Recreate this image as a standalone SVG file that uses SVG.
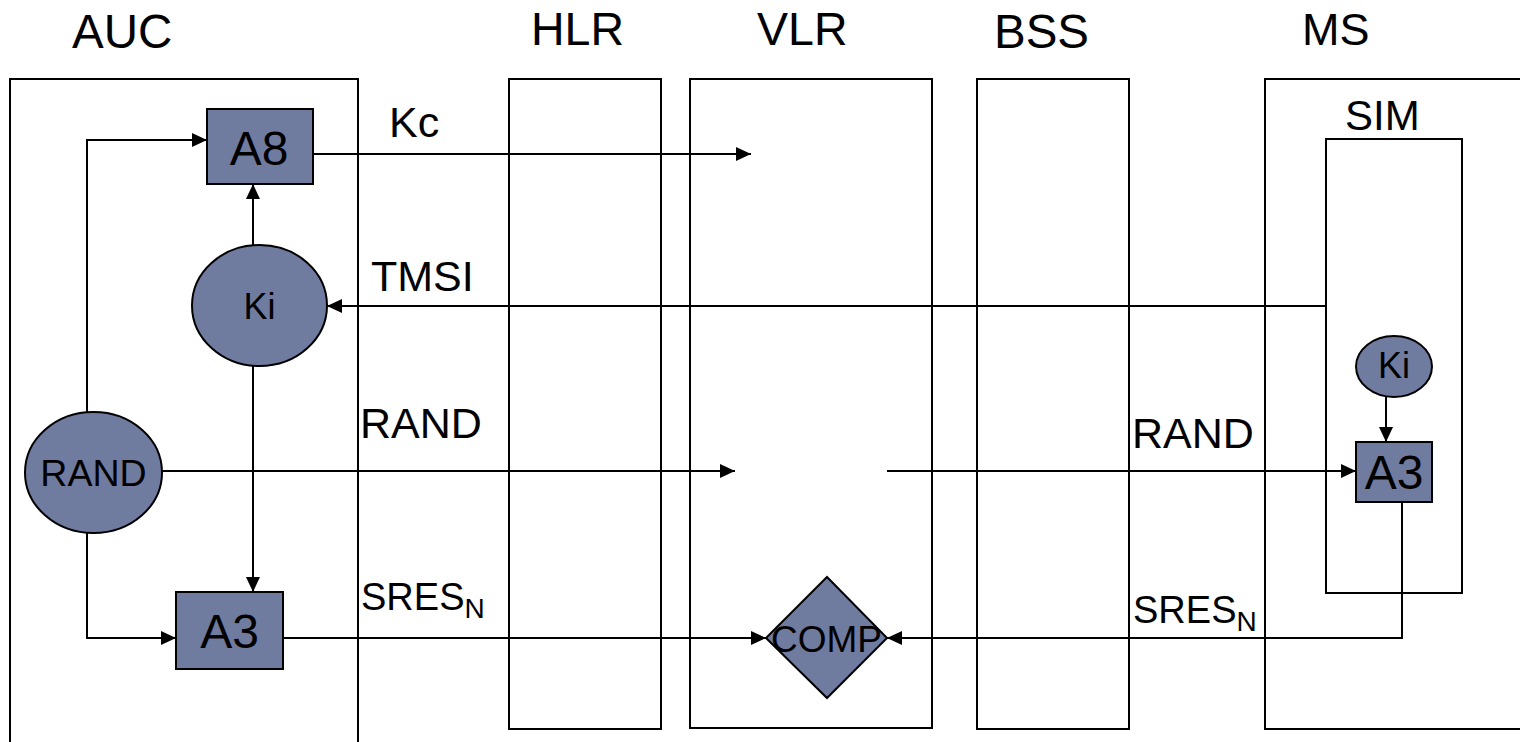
<svg xmlns="http://www.w3.org/2000/svg" width="1520" height="742" viewBox="0 0 1520 742">
  <style>
    .lane { fill: none; stroke: #000; stroke-width: 2; }
    .node { fill: #707ba0; stroke: #000; stroke-width: 2; }
    .wire { fill: none; stroke: #000; stroke-width: 2; }
    .arrow { marker-end: url(#head); }
    text { font-family: "Liberation Sans", Arial, sans-serif; fill: #000; }
    .title { font-size: 46.5px; }
    .label { font-size: 43px; }
    .sres { font-size: 38px; }
    .mid { text-anchor: middle; }
  </style>
  <defs>
    <marker id="head" markerUnits="userSpaceOnUse" markerWidth="15" markerHeight="14" refX="15" refY="7" orient="auto">
      <path d="M0,0 L15,7 L0,14 z" fill="#000"/>
    </marker>
  </defs>

  <rect width="1520" height="742" fill="#fff"/>

  <!-- column headings -->
  <g id="headings">
    <text class="title" x="72" y="48" style="font-size:47.5px">AUC</text>
    <text class="title" x="531" y="45">HLR</text>
    <text class="title" x="757" y="45">VLR</text>
    <text class="title" x="994" y="48" style="font-size:47.5px">BSS</text>
    <text class="title" x="1302" y="45" style="font-size:45px">MS</text>
  </g>

  <!-- swimlanes -->
  <g id="lane-auc"><rect class="lane" x="10" y="79" width="348" height="700"/></g>
  <g id="lane-hlr"><rect class="lane" x="509" y="79" width="152" height="650"/></g>
  <g id="lane-vlr"><rect class="lane" x="690" y="79" width="242" height="649"/></g>
  <g id="lane-bss"><rect class="lane" x="977" y="79" width="152" height="650"/></g>
  <g id="lane-ms"><rect class="lane" x="1265" y="79" width="300" height="650"/></g>
  <g id="sim">
    <rect class="lane" x="1326" y="139" width="136" height="454"/>
    <text x="1345" y="130" font-size="42">SIM</text>
  </g>

  <!-- connectors -->
  <g id="connectors">
    <path class="wire arrow" d="M87,412 V140 H207"/>
    <path class="wire arrow" d="M253,245 V184"/>
    <path class="wire arrow" d="M253,366 V592"/>
    <path class="wire arrow" d="M87,533 V638 H176"/>
    <path class="wire arrow" d="M313,154 H751"/>
    <path class="wire arrow" d="M1326,306 H327"/>
    <path class="wire arrow" d="M162,471 H735"/>
    <path class="wire arrow" d="M887,471 H1356"/>
    <path class="wire arrow" d="M283,638 H766"/>
    <path class="wire arrow" d="M1402,502 V638 H887"/>
    <path class="wire arrow" d="M1386,397 V442"/>
  </g>

  <!-- message labels -->
  <g id="labels">
    <text class="label" x="389" y="137">Kc</text>
    <text class="label" x="371" y="291">TMSI</text>
    <text class="label" x="360" y="438">RAND</text>
    <text class="sres" x="361" y="610">SRES<tspan font-size="28" dy="8">N</tspan></text>
    <text class="label" x="1132" y="448">RAND</text>
    <text class="sres" x="1133" y="623">SRES<tspan font-size="28" dy="8">N</tspan></text>
  </g>

  <!-- AUC nodes -->
  <g id="auc-a8">
    <rect class="node" x="207" y="109" width="106" height="75"/>
    <text class="mid" x="259" y="165" font-size="48">A8</text>
  </g>
  <g id="auc-ki">
    <ellipse class="node" cx="259.5" cy="305.5" rx="67.5" ry="60.5"/>
    <text class="mid" x="259.5" y="319" font-size="36">Ki</text>
  </g>
  <g id="auc-rand">
    <ellipse class="node" cx="93.5" cy="472.5" rx="68.5" ry="60.5"/>
    <text class="mid" x="93.5" y="486" font-size="37.5">RAND</text>
  </g>
  <g id="auc-a3">
    <rect class="node" x="176" y="592" width="107" height="77"/>
    <text class="mid" x="229.5" y="648" font-size="48">A3</text>
  </g>

  <!-- VLR comparator -->
  <g id="vlr-comp">
    <polygon class="node" points="827,577 887,638 827,698 766,638"/>
    <text class="mid" x="826.5" y="652" font-size="37">COMP</text>
  </g>

  <!-- SIM nodes -->
  <g id="sim-ki">
    <ellipse class="node" cx="1394" cy="366.5" rx="38" ry="30.5"/>
    <text class="mid" x="1394" y="378" font-size="36">Ki</text>
  </g>
  <g id="sim-a3">
    <rect class="node" x="1356" y="442" width="76" height="60"/>
    <text class="mid" x="1394" y="489" font-size="48">A3</text>
  </g>
</svg>
